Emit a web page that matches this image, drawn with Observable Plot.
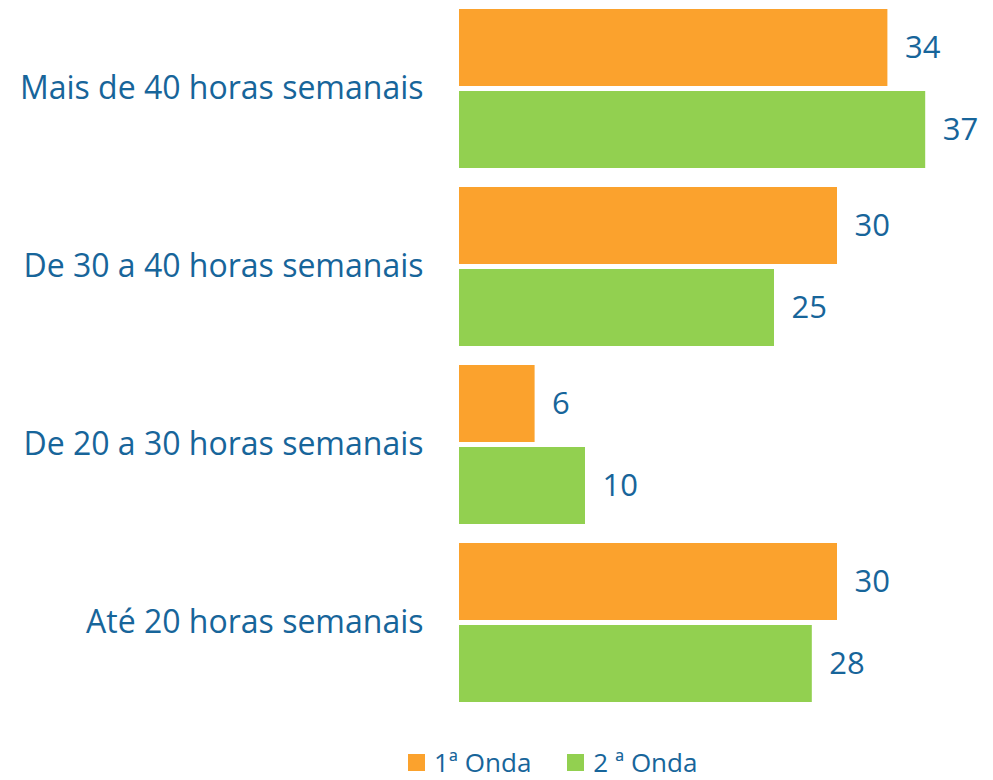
<!DOCTYPE html>
<html>
<head>
<meta charset="utf-8">
<script src="https://cdn.jsdelivr.net/npm/d3@7"></script>
<script src="https://cdn.jsdelivr.net/npm/@observablehq/plot@0.6"></script>
<style>
  body { margin: 0; background: #fff; font-family: "Open Sans", sans-serif; position: relative; width: 993px; height: 780px; overflow: hidden; }
  #legend { position: absolute; left: 408px; top: 748px; height: 28px; display: flex; align-items: center; gap: 36px; font-size: 26px; color: #17659A; line-height: 28px; }
  .item { display: flex; align-items: center; gap: 9px; height: 28px; }
  .sw { width: 17px; height: 17px; display: inline-block; }
</style>
</head>
<body>
<div id="chart"></div>
<div id="legend"></div>
<script>
const categories = ["Mais de 40 horas semanais", "De 30 a 40 horas semanais", "De 20 a 30 horas semanais", "Até 20 horas semanais"];
const series = ["1ª Onda", "2 ª Onda"];
const onda1 = [34, 30, 6, 30];
const onda2 = [37, 25, 10, 28];
const colors = ["#FBA22D", "#92D050"];
const textColor = "#17659A";

const data = [];
categories.forEach((c, i) => {
  data.push({category: c, series: series[0], value: onda1[i]});
  data.push({category: c, series: series[1], value: onda2[i]});
});

const chart = Plot.plot({
  width: 993,
  height: 722,
  marginTop: 8,
  marginBottom: 18,
  marginLeft: 459,
  marginRight: 30,
  style: {fontFamily: "Open Sans, sans-serif", background: "#fff"},
  x: {domain: [0, 40], axis: null},
  fy: {domain: categories, paddingInner: 0.0955, paddingOuter: 0, label: null},
  y: {domain: series, paddingInner: 0.06, paddingOuter: 0, axis: null},
  color: {domain: series, range: colors},
  marks: [
    Plot.barX(data, {fy: "category", y: "series", x: "value", fill: "series"}),
    Plot.text(data, {fy: "category", y: "series", x: "value", text: d => String(d.value), textAnchor: "start", dx: 17, fill: textColor, fontSize: 31}),
    Plot.axisFy({anchor: "left", tickSize: 0, tickPadding: 36, fontSize: 32, color: textColor, label: null})
  ]
});
document.getElementById("chart").appendChild(chart);

const legend = document.getElementById("legend");
series.forEach((s, i) => {
  const item = document.createElement("div");
  item.className = "item";
  const sw = document.createElement("span");
  sw.className = "sw";
  sw.style.background = colors[i];
  const t = document.createElement("span");
  t.textContent = s;
  item.appendChild(sw);
  item.appendChild(t);
  legend.appendChild(item);
});
</script>
</body>
</html>
